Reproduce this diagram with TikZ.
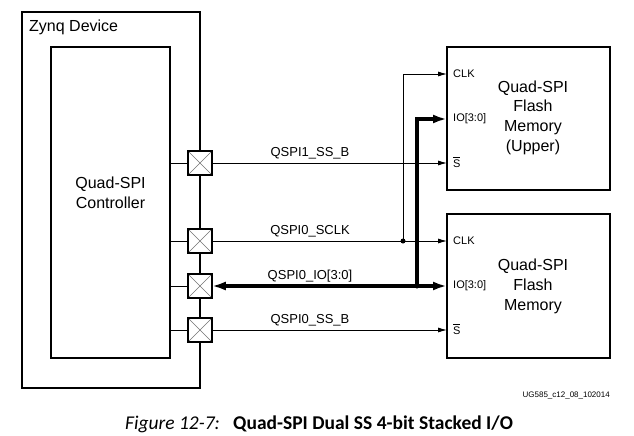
\documentclass[tikz,border=0pt]{standalone}
\usepackage{fontspec}
\setmainfont{Liberation Sans}
\newfontfamily\capfont{Carlito}
\usetikzlibrary{arrows.meta}

\newcommand{\sbar}{\rlap{\rule[9.2pt]{7.2pt}{.6pt}}S}

\begin{document}
\begin{tikzpicture}[x=1pt, y=-1pt,
		box/.style={draw, line width=1.6pt, inner sep=0pt, outer sep=0pt},
		pad/.style={draw, rectangle, line width=1.6pt, fill=white, minimum size=23.5pt, inner sep=0pt, outer sep=0pt,
			path picture={\draw[black!55, line width=.5pt]
				(path picture bounding box.north west) -- (path picture bounding box.south east)
				(path picture bounding box.south west) -- (path picture bounding box.north east);}},
		sig/.style={line width=.8pt, -{Latex[length=9pt,width=5pt]}},
		bus/.style={line width=3.6pt},
		pinlbl/.style={anchor=west, inner sep=0pt, font=\fontsize{11}{13}\selectfont},
		siglbl/.style={anchor=base, inner sep=0pt, font=\fontsize{13}{15}\selectfont},
		dot/.style={circle, fill, inner sep=0pt, minimum size=5pt}]
		\useasboundingbox (0,0) rectangle (634,436);
		
		\def\xpad{200}   % Pads sit on the device edge
		\def\xpin{453}   % Left edge of the pin labels
		\def\xclk{403}   % Vertical clock branch
		\def\xio{417}    % Vertical data branch
		
		% Device, controller and the two flash chips
		\node[box, minimum width=178pt, minimum height=376pt, anchor=north west] (zynq) at (22,12) {};
		\node[box, minimum width=119pt, minimum height=311pt, anchor=north west] (ctrl) at (51,47) {};
		\node[box, minimum width=163pt, minimum height=143pt, anchor=north west] (upper) at (447,47) {};
		\node[box, minimum width=163pt, minimum height=144pt, anchor=north west] (lower) at (447,214) {};
		
		\node[anchor=west, inner sep=0pt, font=\fontsize{16}{19}\selectfont] (zlbl) at (29,27) {Zynq Device};
		\node[align=center, font=\fontsize{16}{20}\selectfont] (clbl) at (110.5,193) {Quad-SPI\\Controller};
		\node[align=center, font=\fontsize{16}{19.7}\selectfont] (ulbl) at (533,117.5) {Quad-SPI\\Flash\\Memory\\(Upper)};
		\node[align=center, font=\fontsize{16}{19.7}\selectfont] (llbl) at (533,286.5) {Quad-SPI\\Flash\\Memory};
		
		% Draw each pad with its stub to the controller
		\foreach \n/\y in {pss1/163, psclk/241, pio/286, pss0/330} {
			\node[pad] (\n) at (\xpad,\y) {};
			\draw[line width=.8pt] (\n.west) -- (\n.west -| ctrl.east);
		}
		
		% Pin labels of both chips
		\foreach \c/\y in {u/0, l/167} {
			\node[pinlbl] (\c clk) at (\xpin,74+\y) {CLK};
			\node[pinlbl] (\c io) at (\xpin,119+\y) {IO[3:0]};
			\node[pinlbl, anchor=base west] (\c ss) at (\xpin,167+\y) {\sbar};
		}
		
		% Signals
		\draw[sig] (pss1.east) -- (pss1.east -| upper.west);
		\draw[sig] (psclk.east) -- (psclk.east -| lower.west);
		\draw[sig] (pss0.east) -- (pss0.east -| lower.west);
		\draw[bus, {Latex[length=14pt,width=9pt]}-{Latex[length=14pt,width=9pt]}] (pio.east) -- (pio.east -| lower.west);
		
		\coordinate (jclk) at (\xclk,241);
		\coordinate (jio) at (\xio,286);
		\draw[sig] (jclk) |- (uclk.west -| upper.west);
		\draw[bus, -{Latex[length=14pt,width=9pt]}] (jio) |- (uio.west -| upper.west);
		\node[dot] (dclk) at (jclk) {};
		\node[dot] (dio) at (jio) {};
		
		\node[siglbl] (lss1) at (310,156) {QSPI1\_SS\_B};
		\node[siglbl] (lsclk) at (310,234) {QSPI0\_SCLK};
		\node[siglbl] (lio) at (310,279) {QSPI0\_IO[3:0]};
		\node[siglbl] (lss0) at (310,323) {QSPI0\_SS\_B};
		
		% Figure id and caption
		\node[anchor=east, inner sep=0pt, font=\fontsize{8}{9}\selectfont] (figid) at (610,395) {UG585\_c12\_08\_102014};
		\node[anchor=base west, inner sep=0pt, font=\capfont\fontsize{19.5}{22}\selectfont] (fignum) at (125,429) {\itshape Figure 12-7:};
		\node[anchor=base west, inner sep=0pt, font=\capfont\fontsize{19.5}{22}\selectfont] (figtitle) at (233,429) {\bfseries Quad-SPI Dual SS 4-bit Stacked I/O};
	\end{tikzpicture}
\end{document}
